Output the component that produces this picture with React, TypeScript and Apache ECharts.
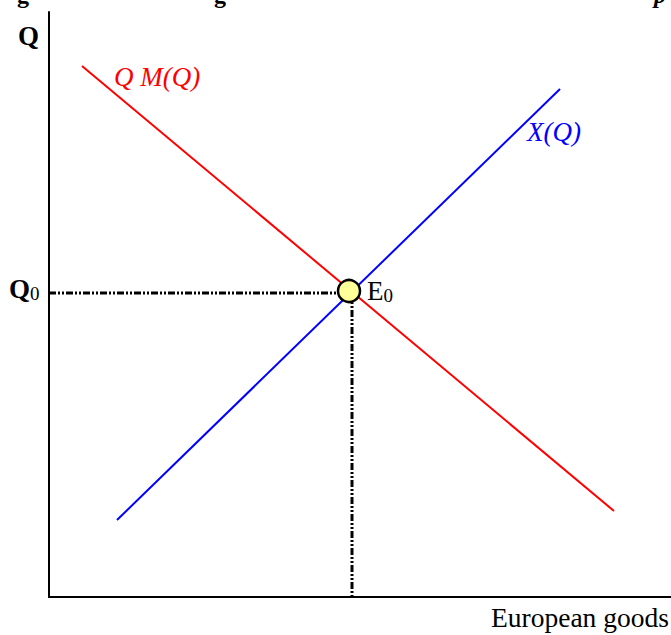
import React, { useEffect, useRef } from "react";
import * as echarts from "echarts";

// Abstract diagram units (x: European goods, y: Q)
const xRange = [0, 622];
const yRange = [0, 585];
const importCurve = [[33, 531], [565, 86]]; // Q M(Q)
const exportCurve = [[68, 77], [511, 508]]; // X(Q)
const equilibrium = [300, 306];
const q0Line = [[0, 304], [303, 304]];
const eLine = [[303, 304], [303, 0]];

const serif = "Liberation Serif, Times New Roman, serif";

export default function App() {
  const ref = useRef<HTMLDivElement>(null);
  useEffect(() => {
    const chart = echarts.init(ref.current!, null, { renderer: "svg" });
    const dotted = { type: [7, 2, 2, 2, 2, 2] as any, width: 3, color: "#000" };
    chart.setOption({
      animation: false,
      backgroundColor: "#fff",
      grid: { left: 49, right: 0, top: 12, bottom: 38 },
      xAxis: {
        type: "value", min: xRange[0], max: xRange[1],
        axisLine: { show: true, onZero: false, lineStyle: { color: "#000", width: 2 } },
        axisTick: { show: false }, axisLabel: { show: false }, splitLine: { show: false },
      },
      yAxis: {
        type: "value", min: yRange[0], max: yRange[1],
        axisLine: { show: true, onZero: false, lineStyle: { color: "#000", width: 2 } },
        axisTick: { show: false }, axisLabel: { show: false }, splitLine: { show: false },
      },
      series: [
        { type: "line", data: q0Line, symbol: "none", lineStyle: dotted, z: 2 },
        { type: "line", data: eLine, symbol: "none", lineStyle: dotted, z: 2 },
        { type: "line", data: importCurve, symbol: "none", lineStyle: { color: "#ff0000", width: 2 }, z: 3 },
        { type: "line", data: exportCurve, symbol: "none", lineStyle: { color: "#0000ff", width: 2 }, z: 3 },
        {
          type: "scatter", data: [equilibrium], symbol: "circle", symbolSize: 22, z: 5,
          itemStyle: { color: "#ffff99", borderColor: "#000", borderWidth: 2.5, opacity: 1 },
        },
      ],
      graphic: [
        { type: "text", left: 17, top: -17, style: { text: "g", font: `bold 24px ${serif}`, fill: "#000" } },
        { type: "text", left: 214, top: -17, style: { text: "g", font: `bold 24px ${serif}`, fill: "#000" } },
        { type: "text", left: 654, top: -17, style: { text: "p", font: `italic bold 24px ${serif}`, fill: "#000" } },
        { type: "text", left: 18, top: 22, style: { text: "Q", font: `bold 27px ${serif}`, fill: "#000" } },
        {
          type: "text", left: 9, top: 275,
          style: {
            text: "{a|Q}{b|0}", fill: "#000",
            rich: {
              a: { font: `bold 27px ${serif}`, fill: "#000" },
              b: { font: `19px ${serif}`, fill: "#000", padding: [10, 0, 0, 0] },
            },
          },
        },
        {
          type: "text", left: 367, top: 277,
          style: {
            text: "{a|E}{b|0}", fill: "#000",
            rich: {
              a: { font: `27px ${serif}`, fill: "#000" },
              b: { font: `19px ${serif}`, fill: "#000", padding: [10, 0, 0, 0] },
            },
          },
        },
        { type: "text", left: 114, top: 63, style: { text: "Q M(Q)", font: `italic 27px ${serif}`, fill: "#ff0000" } },
        { type: "text", left: 527, top: 118, style: { text: "X(Q)", font: `italic 27px ${serif}`, fill: "#0000ff" } },
        { type: "text", left: 491, top: 603, style: { text: "European goods", font: `27.5px ${serif}`, fill: "#000" } },
      ],
    });
    return () => chart.dispose();
  }, []);
  return (
    <div
      ref={ref}
      style={{ position: "fixed", left: 0, top: 0, width: 671, height: 635 }}
    />
  );
}
